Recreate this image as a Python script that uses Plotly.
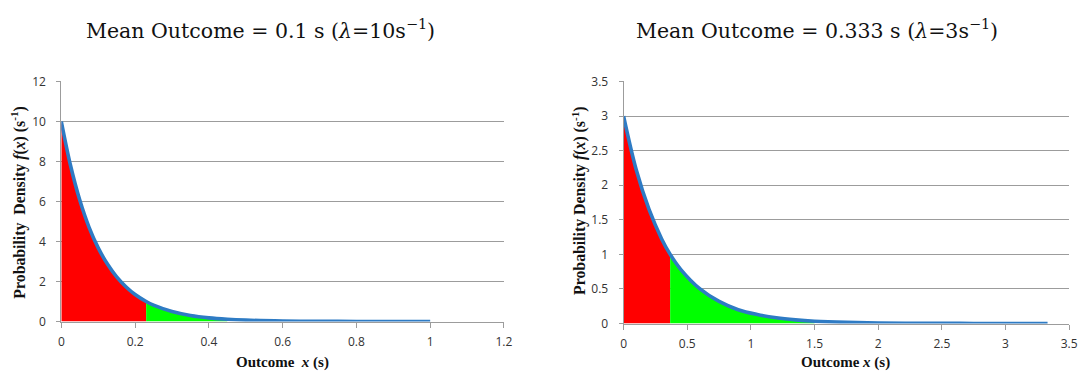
import plotly.graph_objects as go

# Left chart: lambda = 10 s^-1
x_left = [0, 0.025, 0.05, 0.075, 0.1, 0.125, 0.15, 0.175, 0.2, 0.23, 0.25, 0.3, 0.35, 0.4, 0.45,
          0.5, 0.6, 0.7, 0.8, 0.9, 1.0]
y_left = [10, 7.8, 6.07, 4.72, 3.68, 2.87, 2.23, 1.74, 1.35, 1.0, 0.82, 0.5, 0.3, 0.18, 0.11,
          0.067, 0.025, 0.009, 0.0034, 0.0012, 0.0005]
red_end_left = 0.23
green_end_left = 0.45

# Right chart: lambda = 3 s^-1
x_right = [0, 0.1, 0.2, 0.3, 0.366, 0.45, 0.6, 0.75, 0.9, 1.05, 1.2, 1.35, 1.5, 1.75, 2.0,
           2.25, 2.5, 2.75, 3.0, 3.33]
y_right = [3.0, 2.22, 1.65, 1.22, 1.0, 0.78, 0.5, 0.32, 0.2, 0.13, 0.082, 0.052, 0.033, 0.016,
           0.0074, 0.0035, 0.0017, 0.0008, 0.0004, 0.0001]
red_end_right = 0.366
green_end_right = 1.5

title_left = "Mean Outcome = 0.1 s (<i>λ</i>=10s<sup>−1</sup>)"
title_right = "Mean Outcome = 0.333 s (<i>λ</i>=3s<sup>−1</sup>)"
ytitle_left = "<b>Probability  Density <i>f</i>(<i>x</i>) (s<sup>-1</sup>)</b>"
ytitle_right = "<b>Probability Density <i>f</i>(<i>x</i>) (s<sup>-1</sup>)</b>"
xtitle_left = "<b>Outcome  <i>x</i> (s)</b>"
xtitle_right = "<b>Outcome <i>x</i> (s)</b>"

W, H = 1085, 376


# map a target position in the photographed page to figure coordinates
def px(x):
    return ((x - 2.5) / 0.992) / W


def py(y):
    return 1 - ((y - 9.3) / 0.955) / H


RED = "#FF0000"
GREEN = "#00FF00"
BLUE = "#2E7BC4"
GRID = "#9C9C9C"

fig = go.Figure()


def add_panel(xs, ys, red_end, green_end, xa, ya):
    rx = [x for x in xs if x <= red_end]
    ry = [y for x, y in zip(xs, ys) if x <= red_end]
    gx = [x for x in xs if red_end <= x <= green_end]
    gy = [y for x, y in zip(xs, ys) if red_end <= x <= green_end]
    fig.add_trace(go.Scatter(x=rx, y=ry, mode="lines", fill="tozeroy", fillcolor=RED,
                             line=dict(width=0, shape="spline", color=RED),
                             xaxis=xa, yaxis=ya, showlegend=False, hoverinfo="skip"))
    fig.add_trace(go.Scatter(x=gx, y=gy, mode="lines", fill="tozeroy", fillcolor=GREEN,
                             line=dict(width=0, shape="spline", color=GREEN),
                             xaxis=xa, yaxis=ya, showlegend=False, hoverinfo="skip"))
    fig.add_trace(go.Scatter(x=xs, y=ys, mode="lines",
                             line=dict(width=3.6, shape="spline", color=BLUE),
                             xaxis=xa, yaxis=ya, showlegend=False))


add_panel(x_left, y_left, red_end_left, green_end_left, "x", "y")
add_panel(x_right, y_right, red_end_right, green_end_right, "x2", "y2")

tickfont = dict(family="Open Sans, Liberation Sans, Arial", size=12, color="#333333")

common_x = dict(showgrid=False, showline=True, linecolor=GRID, linewidth=1,
                ticks="outside", ticklen=5, tickcolor=GRID, tickfont=tickfont, zeroline=False,
                ticklabelstandoff=4)
common_y = dict(showgrid=True, gridcolor=GRID, gridwidth=1, showline=True, linecolor=GRID,
                linewidth=1, ticks="outside", ticklen=4, tickcolor=GRID, tickfont=tickfont,
                zeroline=False, ticklabelstandoff=8)

fig.update_layout(
    width=W, height=H,
    margin=dict(l=0, r=0, t=0, b=0),
    paper_bgcolor="white", plot_bgcolor="white",
    xaxis=dict(domain=[px(61), px(505)], range=[0, 1.2], dtick=0.2, anchor="y", **common_x),
    yaxis=dict(domain=[py(322), py(82)], range=[0, 12.03], dtick=2, anchor="x", **common_y),
    xaxis2=dict(domain=[px(625), px(1072)], range=[0, 3.5], dtick=0.5, anchor="y2", **common_x),
    yaxis2=dict(domain=[py(324), py(82)], range=[0, 3.51], dtick=0.5, anchor="x2", **common_y),
)

serif_title = dict(family="DejaVu Serif, serif", size=20.5, color="#111111")
serif_axis = dict(family="Liberation Serif, Times New Roman, serif", size=15.8, color="#111111")
serif_xaxis = dict(family="Liberation Serif, Times New Roman, serif", size=15, color="#111111")

ann = [
    dict(text=title_left, x=px(261), y=py(31), font=serif_title),
    dict(text=title_right, x=px(819), y=py(31), font=serif_title),
    dict(text=ytitle_left, x=px(18), y=py(203), font=serif_axis, textangle=-90),
    dict(text=ytitle_right, x=px(580), y=py(202), font=serif_axis, textangle=-90),
    dict(text=xtitle_left, x=px(283), y=py(363), font=serif_xaxis),
    dict(text=xtitle_right, x=px(848), y=py(363), font=serif_xaxis),
]
for a in ann:
    fig.add_annotation(xref="paper", yref="paper", showarrow=False,
                       xanchor="center", yanchor="middle", **a)

fig.write_html("out.html")
